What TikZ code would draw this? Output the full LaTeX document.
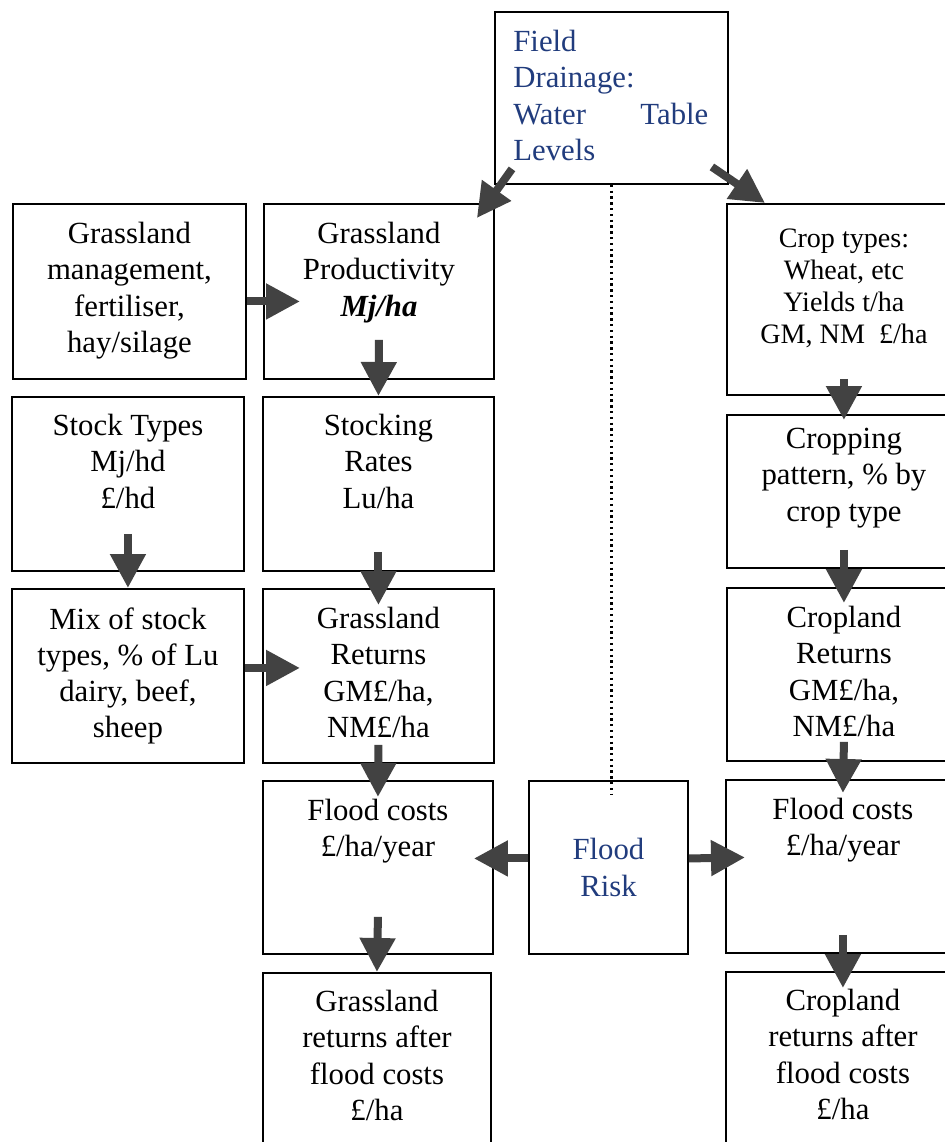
\documentclass[tikz,border=0pt]{standalone}
\usepackage{fontspec}
\setmainfont{Liberation Serif}
\usepackage{tikz}
\usetikzlibrary{calc}
\usetikzlibrary{arrows.meta}
\usepackage{xcolor}

\definecolor{drainblue}{RGB}{33,60,125}
\definecolor{arrowgray}{RGB}{66,66,66}

\tikzset{
    box/.style={draw=black, line width=1.1pt, anchor=north west, inner sep=0pt},
    txt/.style={anchor=north, align=center, inner sep=0pt, font=\fontsize{17.5}{20.6}\selectfont},
    flowarrow/.style={draw=arrowgray, line width=0.16cm, -{Triangle[length=0.68cm,width=0.68cm]}}
}

\begin{document}
\begin{tikzpicture}[x=0.02cm, y=-0.02cm]
            \useasboundingbox (0,0) rectangle (945,1142);

            % Field drainage
            \node[box, minimum width=4.66cm, minimum height=3.44cm] (drain) at (494,11) {};
            \node[txt, anchor=north west, align=left, text width=3.9cm, text=drainblue] (drain-t)
                at ($(drain.north west)+(19,19)$) {Field\\Drainage:\\Water\hfill Table\\Levels};

            % Grassland side
            \node[box, minimum width=4.66cm, minimum height=3.5cm] (mgmt) at (12,203) {};
            \node[txt] (mgmt-t) at ($(mgmt.north)+(0,19)$) {Grassland\\management,\\fertiliser,\\hay/silage};
            \node[box, minimum width=4.6cm, minimum height=3.5cm] (prod) at (263,203) {};
            \node[txt] (prod-t) at ($(prod.north)+(0,19)$) {Grassland\\Productivity\\\textbf{\textit{Mj/ha}}};

            \node[box, minimum width=4.64cm, minimum height=3.48cm] (stype) at (11,396) {};
            \node[txt] (stype-t) at ($(stype.north)+(0,18)$) {Stock Types\\Mj/hd\\£/hd};
            \node[box, minimum width=4.62cm, minimum height=3.48cm] (srate) at (262,396) {};
            \node[txt] (srate-t) at ($(srate.north)+(0,18)$) {Stocking\\Rates\\Lu/ha};

            \node[box, minimum width=4.64cm, minimum height=3.48cm] (mix) at (11,588) {};
            \node[txt] (mix-t) at ($(mix.north)+(0,19)$) {Mix of stock\\types, \% of Lu\\dairy, beef,\\sheep};
            \node[box, minimum width=4.62cm, minimum height=3.48cm] (gret) at (262,588) {};
            \node[txt] (gret-t) at ($(gret.north)+(0,19)$) {Grassland\\Returns\\GM£/ha,\\NM£/ha};

            \node[box, minimum width=4.6cm, minimum height=3.46cm] (gflood) at (262,780) {};
            \node[txt] (gflood-t) at ($(gflood.north)+(0,19)$) {Flood costs\\£/ha/year};
            \node[box, minimum width=4.56cm, minimum height=4cm] (gafter) at (262,972) {};
            \node[txt] (gafter-t) at ($(gafter.north)+(0,18)$) {Grassland\\returns after\\flood costs\\£/ha};

            % Flood risk
            \node[box, minimum width=3.18cm, minimum height=3.46cm] (risk) at (528,780) {};
            \node[txt, anchor=center, text=drainblue] (risk-t) at (risk.center) {Flood\\Risk};

            % Cropland side
            \node[box, minimum width=4.8cm, minimum height=3.82cm] (crop) at (726,203) {};
            \node[txt, font=\fontsize{16}{18.2}\selectfont] (crop-t) at ($(crop.north)+(-3,26)$)
                {Crop types:\\Wheat, etc\\Yields t/ha\\GM, NM\ \ £/ha};
            \node[box, minimum width=4.8cm, minimum height=3.06cm] (cpat) at (726,414) {};
            \node[txt] (cpat-t) at ($(cpat.north)+(-3,14)$) {Cropping\\pattern, \% by\\crop type};
            \node[box, minimum width=4.8cm, minimum height=3.46cm] (cret) at (726,587) {};
            \node[txt] (cret-t) at ($(cret.north)+(-3,19)$) {Cropland\\Returns\\GM£/ha,\\NM£/ha};
            \node[box, minimum width=4.8cm, minimum height=3.46cm] (cflood) at (725,779) {};
            \node[txt] (cflood-t) at ($(cflood.north)+(-3,19)$) {Flood costs\\£/ha/year};
            \node[box, minimum width=4.8cm, minimum height=4cm] (cafter) at (725,971) {};
            \node[txt] (cafter-t) at ($(cafter.north)+(-3,18)$) {Cropland\\returns after\\flood costs\\£/ha};

            % dotted link
            \draw[line width=1.3pt, dotted] (drain.south) -- ($(drain.south |- risk.north)+(0,15)$);

            % arrows
            \draw[flowarrow] ($(drain.south west)+(18,-16)$) -- ($(prod.north east)+(-18,15)$);
            \draw[flowarrow] ($(drain.south east)+(-17,-18)$) -- ($(crop.north west)+(39,0)$);
            \draw[flowarrow] ($(mgmt.east)+(0,10)$) -- ($(prod.west)+(37,10)$);
            \draw[flowarrow] ($(mix.east)+(0,-8)$) -- ($(gret.west)+(38,-8)$);
            \draw[flowarrow] ($(risk.west)+(0,-9)$) -- ($(gflood.east)+(-20,-9)$);
            \draw[flowarrow] ($(risk.east)+(0,-9)$) -- ($(cflood.west)+(20,-9)$);
            \foreach \a/\b/\dx/\s/\e in {prod/srate/0/-40/0, stype/mix/0/-38/0, srate/gret/0/-20/17,
                gret/gflood/0/-19/17, gflood/gafter/0/-38/0, crop/cpat/-3/-17/6,
                cpat/cret/-3/-19/16, cret/cflood/-3/-20/14, cflood/cafter/-3/-19/17}
            {
            \draw[flowarrow] ($(\a.south)+(\dx,\s)$) -- ($(\b.north)+(\dx,\e)$);
            }

\end{tikzpicture}
\end{document}
